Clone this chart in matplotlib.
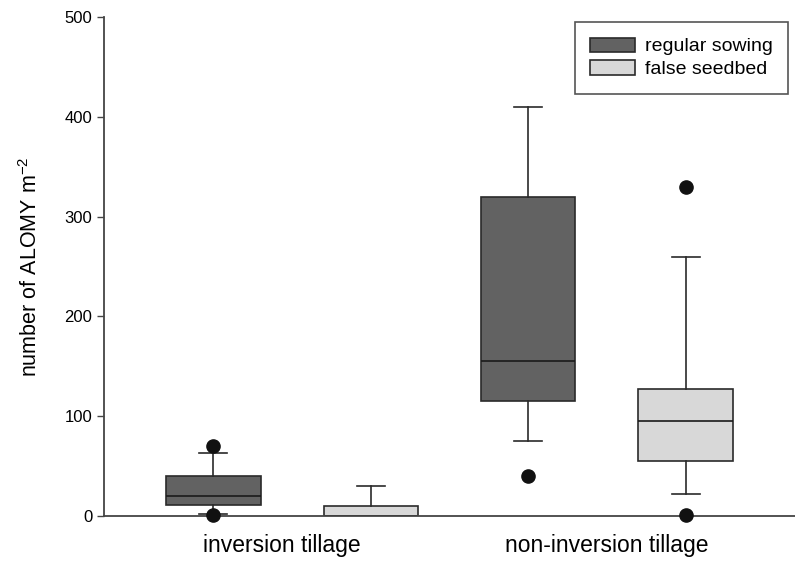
import matplotlib
matplotlib.use("Agg")
import matplotlib.pyplot as plt
from matplotlib.patches import Patch

plt.rcParams['font.family'] = ['Liberation Sans', 'DejaVu Sans']

# tillage systems on the x axis, sowing treatments within each
groups = ["inversion tillage", "non-inversion tillage"]
treatments = ["regular sowing", "false seedbed"]
colors = ["#626262", "#d8d8d8"]

# box statistics per treatment, one value per tillage group
whislo = {"regular sowing": [2, 75], "false seedbed": [0, 22]}
q1 = {"regular sowing": [11, 115], "false seedbed": [0, 55]}
med = {"regular sowing": [20, 155], "false seedbed": [0, 95]}
q3 = {"regular sowing": [40, 320], "false seedbed": [10, 127]}
whishi = {"regular sowing": [63, 410], "false seedbed": [30, 260]}
fliers = {"regular sowing": [[70, 1], [40]], "false seedbed": [[], [330, 1]]}

fig = plt.figure(figsize=(7.95, 5.61), dpi=100)
ax = fig.add_axes([0.1308, 0.0802, 0.8692, 0.8895])

offsets = [-0.25, 0.25]
for t, name in enumerate(treatments):
    stats = []
    for g in range(len(groups)):
        stats.append(dict(whislo=whislo[name][g], q1=q1[name][g], med=med[name][g],
                          q3=q3[name][g], whishi=whishi[name][g], fliers=fliers[name][g]))
    pos = [g + 1 + offsets[t] for g in range(len(groups))]
    parts = ax.bxp(stats, positions=pos, widths=0.30, patch_artist=True, showfliers=True,
                   boxprops=dict(facecolor=colors[t], edgecolor="#2a2a2a", linewidth=1.2),
                   medianprops=dict(color="#1a1a1a", linewidth=1.2),
                   whiskerprops=dict(color="#2a2a2a", linewidth=1.2),
                   capprops=dict(color="#2a2a2a", linewidth=1.2),
                   capwidths=0.09,
                   flierprops=dict(marker="o", markerfacecolor="#111111",
                                   markeredgecolor="#111111", markersize=9.5))
    for fl in parts["fliers"]:
        fl.set_clip_on(False)
        fl.set_zorder(5)

ax.set_xlim(0.403, 2.597)
ax.set_ylim(0, 500)
# group labels; the first one sits a little left of its pair of boxes
ax.set_xticks([0.968, 2.0])
ax.set_xticklabels(groups, fontsize=16.5)
ax.tick_params(axis="x", length=0, pad=13)
ax.set_yticks(range(0, 501, 100))
ax.tick_params(axis="y", labelsize=12, length=5, width=1, direction="out", color="#444444")
ax.set_ylabel("number of ALOMY m$^{\\mathregular{-2}}$", fontsize=15.5, labelpad=16)

for side in ["top", "right"]:
    ax.spines[side].set_visible(False)
for side in ["left", "bottom"]:
    ax.spines[side].set_color("#444444")
    ax.spines[side].set_linewidth(1.3)

handles = [Patch(facecolor=c, edgecolor="#2a2a2a", linewidth=1.2) for c in colors]
leg = ax.legend(handles, treatments, loc="upper right", bbox_to_anchor=(0.9899, 0.99),
                fontsize=14, frameon=True, fancybox=False, edgecolor="#2a2a2a",
                handlelength=2.3, handleheight=0.75, handletextpad=0.5,
                labelspacing=0.25, borderpad=0.8, borderaxespad=0.0)
leg.get_frame().set_linewidth(1.2)

fig.savefig("out.png", dpi=100)
